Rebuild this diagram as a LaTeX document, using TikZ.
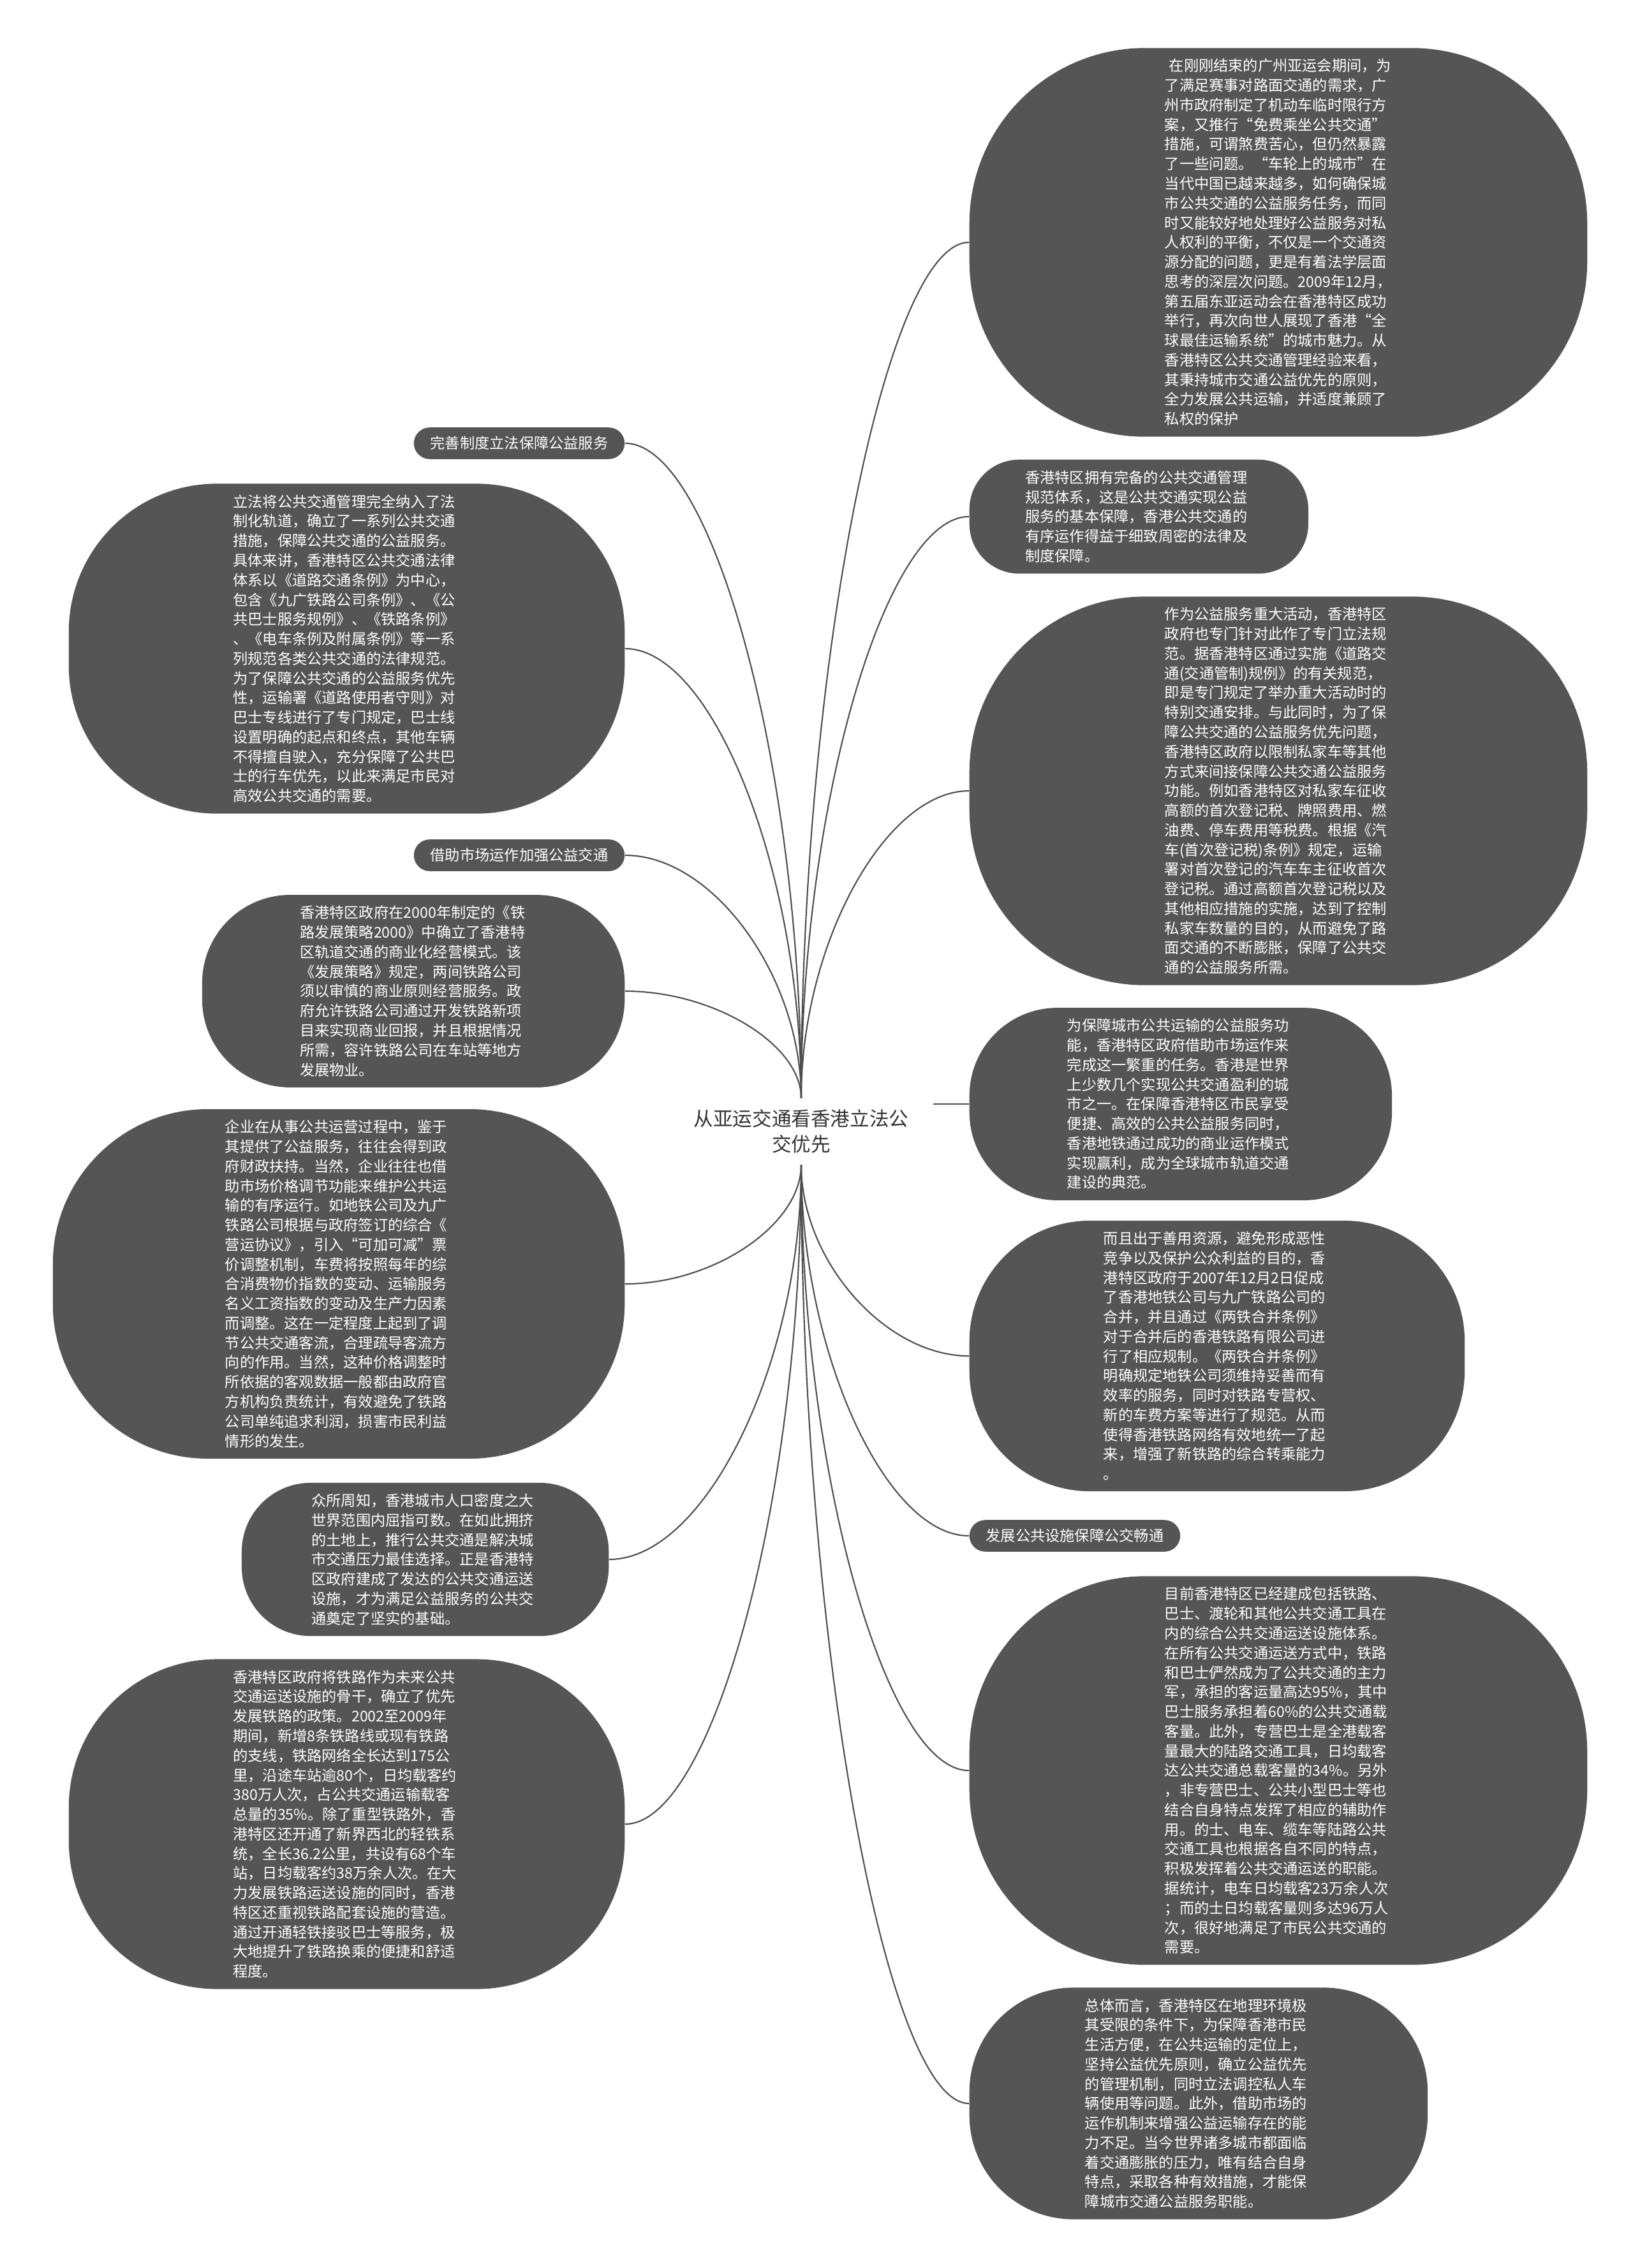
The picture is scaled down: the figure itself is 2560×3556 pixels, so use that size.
\documentclass[tikz,border=0pt]{standalone}
\usepackage{fontspec}
\setmainfont{Noto Sans CJK SC}

\definecolor{blobgray}{HTML}{555555}
\definecolor{linkgray}{HTML}{4D4D4D}
\definecolor{titleink}{HTML}{333333}

\tikzset{
  leaf/.style 2 args={rectangle, fill=blobgray, text=white, inner xsep=0pt, inner ysep=0.17cm,
    minimum width=#1, rounded corners=#2,
    text width=3.56cm, align=left, font=\fontsize{6.6pt}{8.75pt}\selectfont},
  tag/.style={rectangle, fill=blobgray, text=white, inner xsep=0.26cm, inner ysep=0.14cm,
    rounded corners=0.25cm, font=\fontsize{6.6pt}{8.75pt}\selectfont},
  link/.style={draw=linkgray, line width=0.6pt},
}

\begin{document}
\begin{tikzpicture}[x=0.01cm, y=-0.01cm]
\useasboundingbox (0,0) rectangle (2560,3556);

% centre
\node[fill=white, text=titleink, align=center, inner xsep=0.38cm, inner ysep=0.17cm,
  font=\fontsize{8.7pt}{11.5pt}\selectfont] (root) at (1256,1774) {从亚运交通看香港立法公\\交优先};

% right side
\node[leaf={9.68cm}{2.75cm}, anchor=west] (r1) at (1519,380) {\hspace*{0.3em}在刚刚结束的广州亚运会期间，为\\了满足赛事对路面交通的需求，广\\州市政府制定了机动车临时限行方\\案，又推行“免费乘坐公共交通”\\措施，可谓煞费苦心，但仍然暴露\\了一些问题。“车轮上的城市”在\\当代中国已越来越多，如何确保城\\市公共交通的公益服务任务，而同\\时又能较好地处理好公益服务对私\\人权利的平衡，不仅是一个交通资\\源分配的问题，更是有着法学层面\\思考的深层次问题。2009年12月，\\第五届东亚运动会在香港特区成功\\举行，再次向世人展现了香港“全\\球最佳运输系统”的城市魅力。从\\香港特区公共交通管理经验来看，\\其秉持城市交通公益优先的原则，\\全力发展公共运输，并适度兼顾了\\私权的保护};
\node[leaf={5.31cm}{0.78cm}, anchor=west] (r2) at (1519,810) {香港特区拥有完备的公共交通管理\\规范体系，这是公共交通实现公益\\服务的基本保障，香港公共交通的\\有序运作得益于细致周密的法律及\\制度保障。};
\node[leaf={9.68cm}{2.75cm}, anchor=west] (r3) at (1519,1240) {作为公益服务重大活动，香港特区\\政府也专门针对此作了专门立法规\\范。据香港特区通过实施《道路交\\通(交通管制)规例》的有关规范，\\即是专门规定了举办重大活动时的\\特别交通安排。与此同时，为了保\\障公共交通的公益服务优先问题，\\香港特区政府以限制私家车等其他\\方式来间接保障公共交通公益服务\\功能。例如香港特区对私家车征收\\高额的首次登记税、牌照费用、燃\\油费、停车费用等税费。根据《汽\\车(首次登记税)条例》规定，运输\\署对首次登记的汽车车主征收首次\\登记税。通过高额首次登记税以及\\其他相应措施的实施，达到了控制\\私家车数量的目的，从而避免了路\\面交通的不断膨胀，保障了公共交\\通的公益服务所需。};
\node[leaf={6.62cm}{1.38cm}, anchor=west] (r4) at (1519,1731) {为保障城市公共运输的公益服务功\\能，香港特区政府借助市场运作来\\完成这一繁重的任务。香港是世界\\上少数几个实现公共交通盈利的城\\市之一。在保障香港特区市民享受\\便捷、高效的公共公益服务同时，\\香港地铁通过成功的商业运作模式\\实现赢利，成为全球城市轨道交通\\建设的典范。};
\node[leaf={7.76cm}{1.89cm}, anchor=west] (r5) at (1519,2126) {而且出于善用资源，避免形成恶性\\竞争以及保护公众利益的目的，香\\港特区政府于2007年12月2日促成\\了香港地铁公司与九广铁路公司的\\合并，并且通过《两铁合并条例》\\对于合并后的香港铁路有限公司进\\行了相应规制。《两铁合并条例》\\明确规定地铁公司须维持妥善而有\\效率的服务，同时对铁路专营权、\\新的车费方案等进行了规范。从而\\使得香港铁路网络有效地统一了起\\来，增强了新铁路的综合转乘能力\\。};
\node[tag, anchor=west] (r6) at (1519,2408) {发展公共设施保障公交畅通};
\node[leaf={9.68cm}{2.75cm}, anchor=west] (r7) at (1519,2776) {目前香港特区已经建成包括铁路、\\巴士、渡轮和其他公共交通工具在\\内的综合公共交通运送设施体系。\\在所有公共交通运送方式中，铁路\\和巴士俨然成为了公共交通的主力\\军，承担的客运量高达95\%，其中\\巴士服务承担着60\%的公共交通载\\客量。此外，专营巴士是全港载客\\量最大的陆路交通工具，日均载客\\达公共交通总载客量的34\%。另外\\，非专营巴士、公共小型巴士等也\\结合自身特点发挥了相应的辅助作\\用。的士、电车、缆车等陆路公共\\交通工具也根据各自不同的特点，\\积极发挥着公共交通运送的职能。\\据统计，电车日均载客23万余人次\\；而的士日均载客量则多达96万人\\次，很好地满足了市民公共交通的\\需要。};
\node[leaf={7.18cm}{1.63cm}, anchor=west] (r8) at (1519,3298) {总体而言，香港特区在地理环境极\\其受限的条件下，为保障香港市民\\生活方便，在公共运输的定位上，\\坚持公益优先原则，确立公益优先\\的管理机制，同时立法调控私人车\\辆使用等问题。此外，借助市场的\\运作机制来增强公益运输存在的能\\力不足。当今世界诸多城市都面临\\着交通膨胀的压力，唯有结合自身\\特点，采取各种有效措施，才能保\\障城市交通公益服务职能。};

% left side
\node[tag, anchor=east] (l0) at (980,695) {完善制度立法保障公益服务};
\node[leaf={8.71cm}{2.32cm}, anchor=east] (l1) at (980,1017) {立法将公共交通管理完全纳入了法\\制化轨道，确立了一系列公共交通\\措施，保障公共交通的公益服务。\\具体来讲，香港特区公共交通法律\\体系以《道路交通条例》为中心，\\包含《九广铁路公司条例》、《公\\共巴士服务规例》、《铁路条例》\\、《电车条例及附属条例》等一系\\列规范各类公共交通的法律规范。\\为了保障公共交通的公益服务优先\\性，运输署《道路使用者守则》对\\巴士专线进行了专门规定，巴士线\\设置明确的起点和终点，其他车辆\\不得擅自驶入，充分保障了公共巴\\士的行车优先，以此来满足市民对\\高效公共交通的需要。};
\node[tag, anchor=east] (l2) at (980,1341) {借助市场运作加强公益交通};
\node[leaf={6.62cm}{1.38cm}, anchor=east] (l3) at (980,1554) {香港特区政府在2000年制定的《铁\\路发展策略2000》中确立了香港特\\区轨道交通的商业化经营模式。该\\《发展策略》规定，两间铁路公司\\须以审慎的商业原则经营服务。政\\府允许铁路公司通过开发铁路新项\\目来实现商业回报，并且根据情况\\所需，容许铁路公司在车站等地方\\发展物业。};
\node[leaf={8.96cm}{2.43cm}, anchor=east] (l4) at (980,2013) {企业在从事公共运营过程中，鉴于\\其提供了公益服务，往往会得到政\\府财政扶持。当然，企业往往也借\\助市场价格调节功能来维护公共运\\输的有序运行。如地铁公司及九广\\铁路公司根据与政府签订的综合《\\营运协议》，引入“可加可减”票\\价调整机制，车费将按照每年的综\\合消费物价指数的变动、运输服务\\名义工资指数的变动及生产力因素\\而调整。这在一定程度上起到了调\\节公共交通客流，合理疏导客流方\\向的作用。当然，这种价格调整时\\所依据的客观数据一般都由政府官\\方机构负责统计，有效避免了铁路\\公司单纯追求利润，损害市民利益\\情形的发生。};
\node[leaf={5.75cm}{1.08cm}, anchor=east] (l5) at (955,2445) {众所周知，香港城市人口密度之大\\世界范围内屈指可数。在如此拥挤\\的土地上，推行公共交通是解决城\\市交通压力最佳选择。正是香港特\\区政府建成了发达的公共交通运送\\设施，才为满足公益服务的公共交\\通奠定了坚实的基础。};
\node[leaf={8.71cm}{2.32cm}, anchor=east] (l6) at (980,2860) {香港特区政府将铁路作为未来公共\\交通运送设施的骨干，确立了优先\\发展铁路的政策。2002至2009年\\期间，新增8条铁路线或现有铁路\\的支线，铁路网络全长达到175公\\里，沿途车站逾80个，日均载客约\\380万人次，占公共交通运输载客\\总量的35\%。除了重型铁路外，香\\港特区还开通了新界西北的轻铁系\\统，全长36.2公里，共设有68个车\\站，日均载客约38万余人次。在大\\力发展铁路运送设施的同时，香港\\特区还重视铁路配套设施的营造。\\通过开通轻铁接驳巴士等服务，极\\大地提升了铁路换乘的便捷和舒适\\程度。};

% links, upper fan
\draw[link] (root.north) .. controls (1256,1050) and (1388,380) .. (r1.west);
\draw[link] (root.north) .. controls (1256,1265) and (1388,810) .. (r2.west);
\draw[link] (root.north) .. controls (1256,1480) and (1388,1240) .. (r3.west);
\draw[link] (root.north) .. controls (1256,1208) and (1118,695) .. (l0.east);
\draw[link] (root.north) .. controls (1256,1369) and (1118,1017) .. (l1.east);
\draw[link] (root.north) .. controls (1256,1531) and (1118,1341) .. (l2.east);
\draw[link] (root.north) .. controls (1256,1637) and (1118,1554) .. (l3.east);
% links, side and lower fan
\draw[link] (root.east |- r4.west) -- (r4.west);
\draw[link] (root.south) .. controls (1256,1977) and (1388,2126) .. (r5.west);
\draw[link] (root.south) .. controls (1256,2118) and (1388,2408) .. (r6.west);
\draw[link] (root.south) .. controls (1256,2302) and (1388,2776) .. (r7.west);
\draw[link] (root.south) .. controls (1256,2564) and (1388,3298) .. (r8.west);
\draw[link] (root.south) .. controls (1256,1921) and (1118,2013) .. (l4.east);
\draw[link] (root.south) .. controls (1256,2137) and (1106,2445) .. (l5.east);
\draw[link] (root.south) .. controls (1256,2344) and (1118,2860) .. (l6.east);
\end{tikzpicture}
\end{document}
